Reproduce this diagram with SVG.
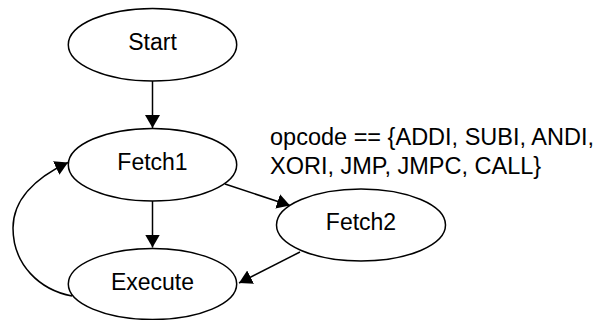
<svg xmlns="http://www.w3.org/2000/svg" width="600" height="320" viewBox="0 0 600 320">
  <style>
    .node ellipse { fill: #ffffff; stroke: #000000; stroke-width: 1.5; }
    .node text { font-family: "Liberation Sans", Arial, sans-serif; font-size: 23px; fill: #000000; text-anchor: middle; }
    .edge { fill: none; stroke: #000000; stroke-width: 1.5; marker-end: url(#arrow); }
    .label { font-family: "Liberation Sans", Arial, sans-serif; font-size: 23.5px; fill: #000000; }
  </style>
  <defs>
    <marker id="arrow" markerUnits="userSpaceOnUse" markerWidth="14" markerHeight="16" refX="13" refY="7.5" orient="auto">
      <path d="M0,0 L13,7.5 L0,15 Z" fill="#000000"/>
    </marker>
  </defs>
  <rect width="600" height="320" fill="#ffffff"/>

  <g id="edges">
    <path class="edge" d="M152.5,81 L152.5,128"/>
    <path class="edge" d="M152.5,201 L152.5,247.5"/>
    <path class="edge" d="M225,184 L290,205.5"/>
    <path class="edge" d="M300,252 L239,283"/>
    <path class="edge" d="M72,296 C40,290 13,265 13,228 C13,200 35,178 68,162.5"/>
  </g>

  <g id="start" class="node">
    <ellipse cx="152.5" cy="44.7" rx="84.2" ry="36.3"/>
    <text x="152.5" y="50">Start</text>
  </g>
  <g id="fetch1" class="node">
    <ellipse cx="152.5" cy="164.7" rx="84.2" ry="36.3"/>
    <text x="152.5" y="170">Fetch1</text>
  </g>
  <g id="fetch2" class="node">
    <ellipse cx="361" cy="225" rx="84.5" ry="36"/>
    <text x="361" y="230">Fetch2</text>
  </g>
  <g id="execute" class="node">
    <ellipse cx="152.5" cy="284" rx="84.2" ry="35.5"/>
    <text x="152.5" y="289.5">Execute</text>
  </g>

  <g id="edge-label">
    <text class="label" x="270" y="145">opcode == {ADDI, SUBI, ANDI,</text>
    <text class="label" x="270" y="173.5">XORI, JMP, JMPC, CALL}</text>
  </g>
</svg>
